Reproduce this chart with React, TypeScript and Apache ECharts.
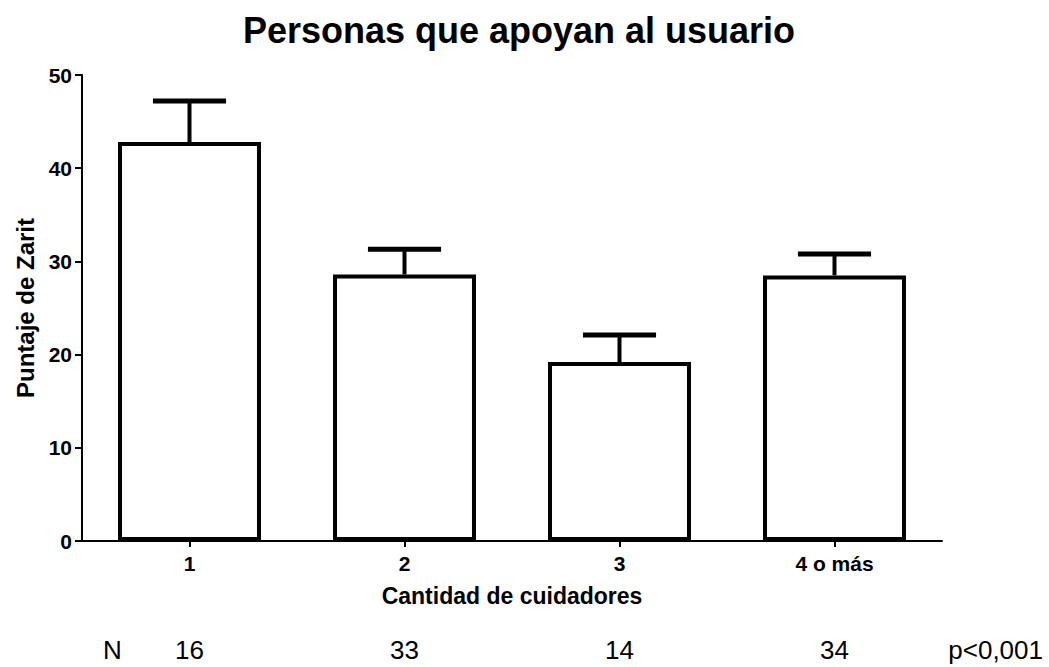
import React, { useEffect, useRef } from "react";
import * as echarts from "echarts";

const categories = ["1", "2", "3", "4 o más"];
const means = [42.8, 28.6, 19.2, 28.5];
const errorTops = [47.2, 31.3, 22.1, 30.8];
const nValues = [16, 33, 14, 34];
const yTicks = [0, 10, 20, 30, 40, 50];
const pText = "p<0,001";

export default function App() {
  const ref = useRef<HTMLDivElement>(null);
  useEffect(() => {
    if (!ref.current) return;
    const chart = echarts.init(ref.current, undefined, { renderer: "svg" });
    const font = "Arial, 'Liberation Sans', Helvetica, sans-serif";
    chart.setOption({
      animation: false,
      textStyle: { fontFamily: font },
      title: {
        text: "Personas que apoyan al usuario",
        left: 514,
        textAlign: "center",
        top: 7,
        textStyle: { fontFamily: font, fontSize: 36, fontWeight: "bold", color: "#000" },
      },
      grid: { left: 82, right: 107, top: 75, bottom: 126, containLabel: false },
      xAxis: [
        {
          type: "category",
          data: categories,
          axisLine: { lineStyle: { color: "#000", width: 2 } },
          axisTick: { show: true, alignWithLabel: true, length: 6, lineStyle: { color: "#000", width: 2 } },
          axisLabel: { color: "#000", fontWeight: "bold", fontSize: 21, fontFamily: font, margin: 12 },
          name: "Cantidad de cuidadores",
          nameLocation: "middle",
          nameGap: 43,
          nameTextStyle: { color: "#000", fontWeight: "bold", fontSize: 23, fontFamily: font },
        },
        {
          type: "category",
          data: categories,
          position: "bottom",
          offset: 88,
          axisLine: { show: false },
          axisTick: { show: false },
          axisLabel: {
            color: "#000",
            fontSize: 26,
            fontFamily: font,
            margin: 8,
            formatter: (_v: string, i: number) => String(nValues[i]),
          },
        },
      ],
      yAxis: {
        type: "value",
        min: yTicks[0],
        max: yTicks[yTicks.length - 1],
        interval: 10,
        splitLine: { show: false },
        axisLine: { show: true, lineStyle: { color: "#000", width: 2 } },
        axisTick: { show: true, length: 7, lineStyle: { color: "#000", width: 2 } },
        axisLabel: { color: "#000", fontWeight: "bold", fontSize: 21, fontFamily: font, margin: 10 },
        name: "Puntaje de Zarit",
        nameLocation: "middle",
        nameGap: 43,
        nameTextStyle: { color: "#000", fontWeight: "bold", fontSize: 24, fontFamily: font },
      },
      graphic: [
        {
          type: "text",
          left: 103,
          top: 637,
          style: { text: "N", fontSize: 26, fontFamily: font, fill: "#000" },
        },
        {
          type: "text",
          right: 6,
          top: 637,
          style: { text: pText, fontSize: 26, fontFamily: font, fill: "#000" },
        },
      ],
      series: [
        {
          type: "bar",
          data: means,
          barWidth: "66.5%",
          itemStyle: { color: "#fff", borderColor: "#000", borderWidth: 4 },
          z: 2,
        },
        {
          type: "custom",
          z: 3,
          data: means.map((m, i) => [i, m, errorTops[i]]),
          renderItem: (params: any, api: any) => {
            const i = api.value(0);
            const base = api.coord([i, api.value(1)]);
            const top = api.coord([i, api.value(2)]);
            const bw = api.size([1, 0])[0] * 0.34;
            return {
              type: "group",
              children: [
                {
                  type: "line",
                  shape: { x1: base[0], y1: base[1], x2: top[0], y2: top[1] },
                  style: { stroke: "#000", lineWidth: 4 },
                },
                {
                  type: "line",
                  shape: { x1: top[0] - bw / 2, y1: top[1], x2: top[0] + bw / 2, y2: top[1] },
                  style: { stroke: "#000", lineWidth: 5 },
                },
              ],
            };
          },
        },
      ],
    });
    return () => chart.dispose();
  }, []);
  return <div ref={ref} style={{ width: 1049, height: 667, position: "absolute", left: 0, top: 0 }} />;
}
